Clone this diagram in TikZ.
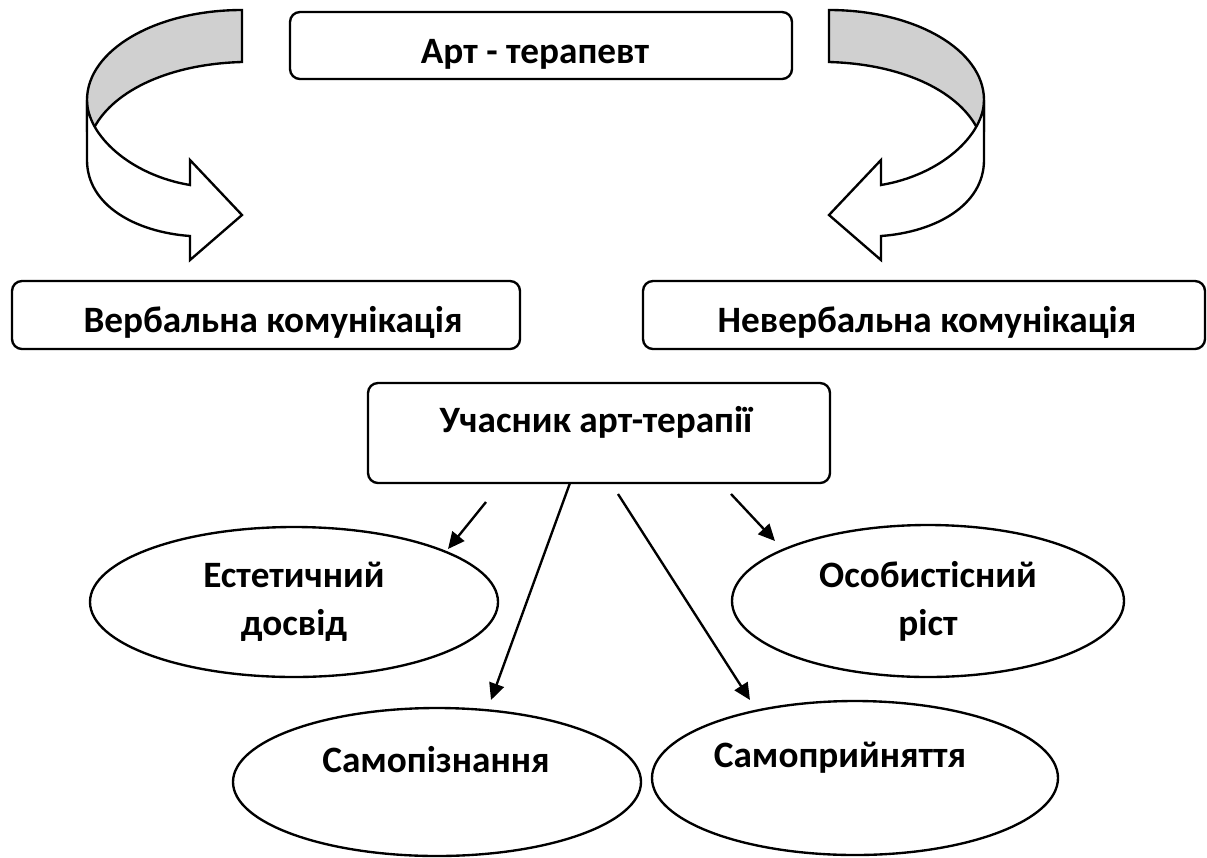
\documentclass[tikz,border=0pt]{standalone}
\usepackage{fontspec}
\setmainfont{Carlito}
\usetikzlibrary{shapes.geometric,arrows.meta}
\definecolor{bandgray}{RGB}{208,208,208}
\newcommand\pxu{0.36pt}
\newcommand\curvearrow{%
  \filldraw[band, fill=bandgray] (242,10) .. controls (156,10) and (87,50) .. (87,100) -- (87,130) -- (94.7,126.6) .. controls (115,90) and (170,64) .. (242,62) -- cycle;
  \filldraw[band, fill=white] (87,100) .. controls (87,135) and (130,175) .. (190,185) -- (190,160) -- (242,215) -- (190,260) -- (190,236) .. controls (135,232) and (87,205) .. (87,160) -- cycle;
}
\begin{document}
\begin{tikzpicture}[x=0.36pt,y=-0.36pt,
  lw/.style={line width=0.85pt},
  band/.style={draw, line width=0.85pt, line join=miter},
  rbox/.style={draw, lw, rounded corners=3.6pt, inner sep=0pt},
  oval/.style={draw, lw, ellipse, inner sep=0pt, align=center, font=\fontsize{13.4pt}{17.3pt}\selectfont\bfseries},
  lbl/.style={font=\fontsize{13.4pt}{16.5pt}\selectfont\bfseries, inner sep=0pt, anchor=base},
  conn/.style={lw, -{Triangle[length=6pt,width=5.5pt]}}
]
\useasboundingbox (0,0) rectangle (1207,857);

% curved arrows
\curvearrow
\begin{scope}[shift={(1071,0)}, xscale=-1]
\curvearrow
\end{scope}

% boxes
\node[rbox, minimum width=502*\pxu, minimum height=67*\pxu] (art) at (541,45.5) {};
\node[lbl] (art-t) at (535,63) {Арт - терапевт};

\node[rbox, minimum width=508*\pxu, minimum height=68*\pxu] (verb) at (266,315) {};
\node[lbl, anchor=base west] (verb-t) at (83,332) {Вербальна комунікація};

\node[rbox, minimum width=562*\pxu, minimum height=68*\pxu] (nverb) at (924,315) {};
\node[lbl] (nverb-t) at (927,332) {Невербальна комунікація};

\node[rbox, minimum width=462*\pxu, minimum height=100*\pxu] (uch) at (599,433) {};
\node[lbl] (uch-t) at (596,432) {Учасник арт-терапії};

% ellipses
\node[oval, minimum width=408*\pxu, minimum height=150*\pxu] (est) at (294,602) {Естетичний\\досвід};
\node[oval, minimum width=392*\pxu, minimum height=152*\pxu] (os) at (928,601) {Особистісний\\ріст};
\node[oval, minimum width=408*\pxu, minimum height=148*\pxu] (sp) at (437,782) {};
\node[lbl] (sp-t) at (436,772) {Самопізнання};
\node[oval, minimum width=406*\pxu, minimum height=154*\pxu] (spr) at (855,778) {};
\node[lbl] (spr-t) at (840,767) {Самоприйняття};

% connectors
\coordinate (s1) at (486,502); \coordinate (e1) at (448,549);
\coordinate (s2) at (570,483); \coordinate (e2) at (491,700);
\coordinate (s3) at (618,494); \coordinate (e3) at (750,700);
\coordinate (s4) at (731,494); \coordinate (e4) at (775,541);
\draw[conn] (s1) -- (e1);
\draw[conn] (s2) -- (e2);
\draw[conn] (s3) -- (e3);
\draw[conn] (s4) -- (e4);
\end{tikzpicture}
\end{document}
